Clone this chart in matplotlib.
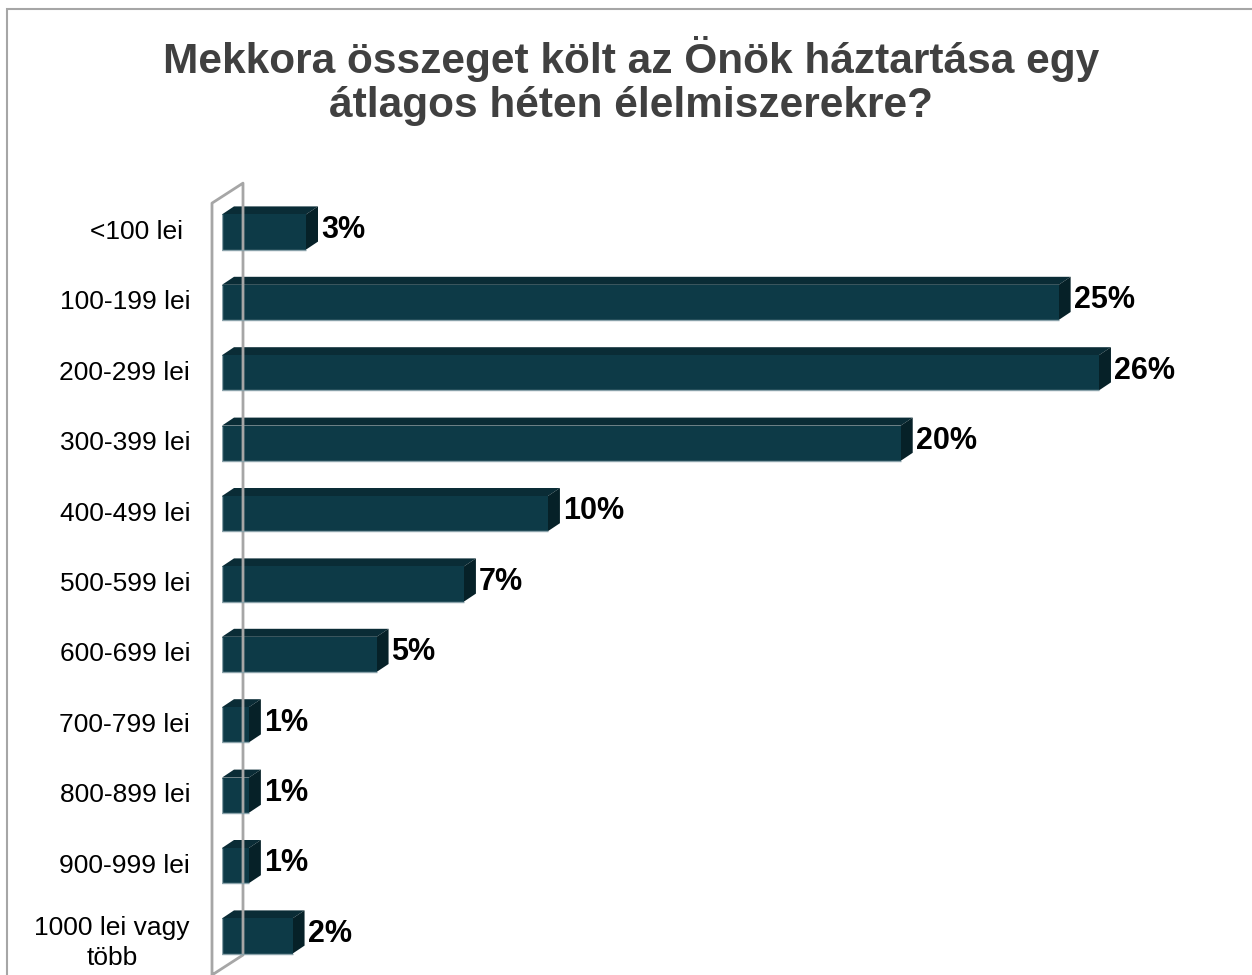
import matplotlib
matplotlib.use("Agg")
import matplotlib.pyplot as plt
from matplotlib.patches import Polygon, Rectangle
import numpy as np

categories = ["<100 lei ", "100-199 lei", "200-299 lei", "300-399 lei", "400-499 lei",
              "500-599 lei", "600-699 lei", "700-799 lei", "800-899 lei", "900-999 lei",
              "1000 lei vagy\ntöbb"]
values = [2.5, 24.9, 26.1, 20.2, 9.7, 7.2, 4.6, 0.8, 0.8, 0.8, 2.1]
value_labels = ["3%", "25%", "26%", "20%", "10%", "7%", "5%", "1%", "1%", "1%", "2%"]

title = "Mekkora összeget költ az Önök háztartása egy\nátlagos héten élelmiszerekre?"

W, H = 1252, 975
plt.rcParams['font.family'] = ['Liberation Sans', 'DejaVu Sans']

front_col = "#0d3a47"
top_col = "#0a2c36"
side_col = "#062128"
edge_col = "#8aa2aa"

# layout in pixels
x0_px = 222          # where 0% sits
px_per_pct = 33.6
row0_px = 232        # center of first bar
px_per_row = 70.4
bar_h = 0.5
depth_px = (12, 8)

fig = plt.figure(figsize=(W / 100, H / 100), dpi=100)
# outer frame, only left and top edges show
fig.patches.append(Rectangle((7 / W, -0.1), 1.2, 1.1 - 9 / H, transform=fig.transFigure,
                             fill=False, edgecolor="#a6a6a6", linewidth=1.5))

xmax = 30
n = len(categories)
ytop = -0.9
ybot = 10 + (H - (row0_px + 10 * px_per_row)) / px_per_row
top_px = row0_px + ytop * px_per_row
ax = fig.add_axes([x0_px / W, 0, xmax * px_per_pct / W, (H - top_px) / H])
ax.set_xlim(0, xmax)
ax.set_ylim(ybot, ytop)
ax.axis("off")

ddx = depth_px[0] / px_per_pct
ddy = depth_px[1] / px_per_row

# back wall lines
wall_front = -10 / px_per_pct
wall_back = wall_front + 31 / px_per_pct
wall_rise = 20 / px_per_row
wall_top = -0.41
wall_kw = dict(color="#a6a6a6", lw=2, clip_on=False, solid_capstyle="butt")
ax.plot([wall_front, wall_front, wall_back, wall_back, wall_front],
        [ybot + 0.1, wall_top, wall_top - wall_rise, ybot - wall_rise, ybot], **wall_kw)

for i, (v, lab) in enumerate(zip(values, value_labels)):
    yt = i - bar_h / 2
    yb = i + bar_h / 2
    ax.add_patch(Polygon([(0, yt), (ddx, yt - ddy), (v + ddx, yt - ddy), (v, yt)],
                         closed=True, facecolor=top_col, edgecolor="none"))
    ax.add_patch(Polygon([(v, yt), (v + ddx, yt - ddy), (v + ddx, yb - ddy), (v, yb)],
                         closed=True, facecolor=side_col, edgecolor="none"))
    ax.add_patch(Rectangle((0, yt), v, bar_h, facecolor=front_col, edgecolor="none"))
    ax.plot([0, 0, v], [yt, yb, yb], color=edge_col, lw=1, solid_capstyle="butt")
    ax.text(v + ddx + 3 / px_per_pct, i - 0.03, lab, ha="left", va="center",
            fontsize=22, fontweight="bold", color="black")

lab_x = -32 / px_per_pct
for i, c in enumerate(categories):
    yy = i + (0.1 if "\n" in c else 0)
    ax.text(lab_x, yy, c, ha="right", va="center", fontsize=19,
            color="black", multialignment="center", linespacing=1.3)

fig.text(631 / W, 1 - 36 / H, title, ha="center", va="top", fontsize=30.5,
         fontweight="bold", color="#404040", linespacing=1.12)

fig.savefig("out.png", dpi=100)
